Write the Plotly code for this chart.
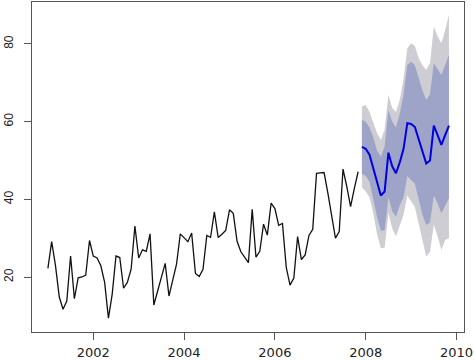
import numpy as np
import plotly.graph_objects as go

# Historical monthly series, Jan 2001 .. Nov 2007
hist_start = 2001.0
hist_values = [
    22.2, 29.1, 23.0, 14.9, 11.7, 13.8, 25.4, 14.4, 19.8, 20.0, 20.5, 29.4,
    25.4, 24.9, 22.9, 18.6, 9.4, 15.6, 25.4, 25.0, 17.1, 18.6, 22.0, 33.1,
    24.9, 27.0, 26.6, 31.1, 12.8, 16.4, 19.9, 23.5, 15.1, 19.2, 23.3, 31.1,
    30.0, 29.1, 31.3, 20.9, 20.1, 22.0, 30.7, 30.2, 36.8, 30.2, 31.0, 32.0,
    37.3, 36.4, 29.2, 26.5, 25.1, 23.7, 37.4, 25.1, 26.6, 33.6, 30.8, 39.0,
    37.6, 33.3, 33.8, 22.5, 17.9, 19.7, 30.4, 24.5, 25.7, 30.7, 32.3, 46.7,
    46.8, 46.9, 41.6, 36.0, 30.0, 31.7, 47.8, 43.3, 38.1, 42.8, 47.1,
]

# Forecast, Dec 2007 .. Nov 2009
fc_start = 2007 + 11 / 12
fc_mean = [53.5, 53.0, 51.5, 48.0, 44.0, 41.0, 42.0, 52.0, 48.5, 46.7, 49.5, 53.0,
           59.6, 59.4, 58.6, 55.5, 52.0, 49.2, 50.0, 59.0, 56.5, 54.0, 56.5, 59.0]
fc_hi80 = [60.4, 60.0, 58.5, 56.0, 52.5, 51.0, 53.6, 63.0, 60.0, 58.5, 62.0, 67.0,
           74.6, 75.4, 74.5, 71.2, 68.0, 65.6, 67.0, 75.0, 73.5, 72.0, 74.5, 77.2]
fc_lo80 = [46.6, 46.0, 44.5, 40.0, 35.5, 32.0, 32.0, 40.5, 37.0, 35.5, 38.5, 40.5,
           46.0, 45.0, 44.0, 40.0, 36.0, 33.4, 34.0, 41.0, 39.0, 36.4, 38.5, 40.3]
fc_hi95 = [63.9, 64.3, 62.5, 59.5, 57.0, 55.3, 57.9, 66.9, 63.5, 62.5, 65.6, 71.0,
           78.9, 80.2, 79.5, 76.3, 74.5, 73.3, 75.0, 84.5, 82.0, 80.2, 83.5, 87.5]
fc_lo95 = [43.1, 42.0, 40.5, 36.5, 31.0, 27.4, 27.5, 36.5, 32.5, 30.5, 33.5, 36.0,
           41.0, 39.5, 38.0, 34.0, 29.5, 25.3, 26.5, 33.5, 30.5, 27.0, 29.5, 30.0]

x_ticks = [2002, 2004, 2006, 2008, 2010]
y_ticks = [20, 40, 60, 80]

t_hist = hist_start + np.arange(len(hist_values)) / 12
t_fc = fc_start + np.arange(len(fc_mean)) / 12

fig = go.Figure()

fig.add_trace(go.Scatter(
    x=np.concatenate([t_fc, t_fc[::-1]]),
    y=np.concatenate([fc_hi95, fc_lo95[::-1]]),
    fill="toself", fillcolor="#CDCDD3", line=dict(width=0), mode="lines",
    hoverinfo="skip", showlegend=False))
fig.add_trace(go.Scatter(
    x=np.concatenate([t_fc, t_fc[::-1]]),
    y=np.concatenate([fc_hi80, fc_lo80[::-1]]),
    fill="toself", fillcolor="#9EA3C8", line=dict(width=0), mode="lines",
    hoverinfo="skip", showlegend=False))
fig.add_trace(go.Scatter(x=t_hist, y=hist_values, mode="lines",
                         line=dict(color="#111111", width=1.3), showlegend=False))
fig.add_trace(go.Scatter(x=t_fc, y=fc_mean, mode="lines",
                         line=dict(color="#0000E0", width=2), showlegend=False))

fig.update_layout(
    width=474, height=360,
    margin=dict(l=32, r=10, t=2, b=28, autoexpand=False),
    paper_bgcolor="white", plot_bgcolor="white",
    showlegend=False,
)
fig.update_xaxes(
    range=[2000.65, 2010.165], tickvals=x_ticks, ticktext=[str(v) for v in x_ticks],
    automargin=False,
    showgrid=False, zeroline=False, showline=True, mirror=True,
    linecolor="#555555", linewidth=1,
    ticks="outside", ticklen=7, tickcolor="#555555",
    ticklabelstandoff=1,
    tickfont=dict(family="DejaVu Sans", size=13, color="#222222"),
)
fig.update_yaxes(
    range=[5.84, 90.8], tickvals=y_ticks, ticktext=[str(v) for v in y_ticks],
    tickangle=-90, automargin=False,
    showgrid=False, zeroline=False, showline=True, mirror=True,
    linecolor="#555555", linewidth=1,
    ticks="outside", ticklen=7, tickcolor="#555555",
    ticklabelstandoff=6,
    tickfont=dict(family="Liberation Sans", size=12, color="#222222"),
)

fig.write_html("out.html", config={"displayModeBar": False},
               post_script="document.body.style.margin='0';document.body.style.padding='0';")
